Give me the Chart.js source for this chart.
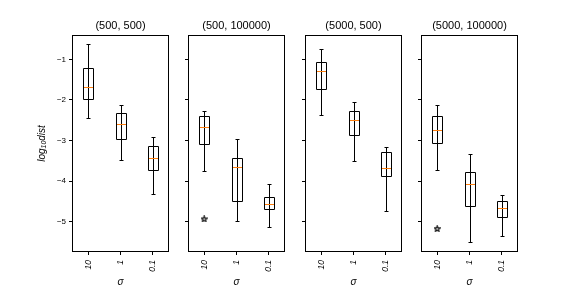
<!DOCTYPE html>
<html>
<head>
<meta charset="utf-8">
<script src="https://cdn.jsdelivr.net/npm/chart.js@4"></script>
<style>
  body { margin: 0; background: #fff; }
  #wrap { position: relative; width: 576px; height: 288px; }
  #wrap canvas { position: absolute; left: 0; top: 0; }
</style>
</head>
<body>
<div id="wrap">
  <canvas id="p0" width="576" height="288"></canvas>
  <canvas id="p1" width="576" height="288"></canvas>
  <canvas id="p2" width="576" height="288"></canvas>
  <canvas id="p3" width="576" height="288"></canvas>
</div>
<script>
// data, one row per panel, one value per sigma
const panelTitles = ["(500, 500)", "(500, 100000)", "(5000, 500)", "(5000, 100000)"];
const sigmaLabels = ["10", "1", "0.1"];
const yTicks = [-5, -4, -3, -2, -1];

const whiskerHigh = [
  [-0.63, -2.13, -2.92],
  [-2.28, -2.97, -4.07],
  [-0.74, -2.06, -3.16],
  [-2.13, -3.33, -4.34],
];
const q3 = [
  [-1.22, -2.31, -3.14],
  [-2.40, -3.43, -4.39],
  [-1.07, -2.28, -3.28],
  [-2.40, -3.78, -4.49],
];
const medians = [
  [-1.69, -2.60, -3.43],
  [-2.67, -3.65, -4.56],
  [-1.29, -2.50, -3.68],
  [-2.74, -4.07, -4.66],
];
const q1 = [
  [-1.98, -2.97, -3.73],
  [-3.09, -4.49, -4.69],
  [-1.74, -2.87, -3.87],
  [-3.06, -4.61, -4.88],
];
const whiskerLow = [
  [-2.45, -3.48, -4.31],
  [-3.75, -4.98, -5.14],
  [-2.38, -3.51, -4.73],
  [-3.73, -5.50, -5.35],
];
const outliers = [
  [null, null, null],
  [-4.93, null, null],
  [null, null, null],
  [-5.17, null, null],
];

const FONT = "'Liberation Sans', Arial, sans-serif";
const panelLeft = [72, 188, 305, 421];
const panelWidth = 97;
const yAxisWidth = 30;

// star marker for fliers
const star = document.createElement("canvas");
star.width = 7; star.height = 7;
(function () {
  const c = star.getContext("2d");
  c.beginPath();
  for (let k = 0; k < 10; k++) {
    const r = k % 2 ? 1.3 : 3.0;
    const a = -Math.PI / 2 + k * Math.PI / 5;
    const px = 3.5 + r * Math.cos(a), py = 3.8 + r * Math.sin(a);
    k ? c.lineTo(px, py) : c.moveTo(px, py);
  }
  c.closePath();
  c.strokeStyle = "#000";
  c.lineWidth = 1.1;
  c.stroke();
})();

const snap = v => Math.round(v) + 0.5;

// box outlines, whiskers, caps, medians and the axes frame
const boxPlugin = {
  id: "boxParts",
  afterDatasetsDraw(chart) {
    const p = chart.options.plugins.boxParts.panel;
    const x = chart.scales.x, y = chart.scales.y;
    const ctx = chart.ctx;
    const bars = chart.getDatasetMeta(0).data;
    ctx.save();
    ctx.lineWidth = 1;
    sigmaLabels.forEach((s, k) => {
      const bar = bars[k];
      const cx = snap(bar.x);
      const half = Math.round(bar.width / 2);
      const capHalf = Math.round(bar.width / 4);
      const yHi = snap(y.getPixelForValue(whiskerHigh[p][k]));
      const yQ3 = snap(bar.y);
      const yQ1 = snap(bar.base);
      const yLo = snap(y.getPixelForValue(whiskerLow[p][k]));
      const yMed = snap(y.getPixelForValue(medians[p][k]));
      ctx.strokeStyle = "#000";
      ctx.beginPath();
      ctx.rect(cx - half, Math.min(yQ3, yQ1), 2 * half, Math.abs(yQ1 - yQ3));
      ctx.moveTo(cx, yQ3); ctx.lineTo(cx, yHi);
      ctx.moveTo(cx, yQ1); ctx.lineTo(cx, yLo);
      ctx.moveTo(cx - capHalf, yHi); ctx.lineTo(cx + capHalf, yHi);
      ctx.moveTo(cx - capHalf, yLo); ctx.lineTo(cx + capHalf, yLo);
      ctx.stroke();
      ctx.strokeStyle = "#ff7f0e";
      ctx.beginPath();
      ctx.moveTo(cx - half + 0.5, yMed); ctx.lineTo(cx + half - 0.5, yMed);
      ctx.stroke();
    });
    const a = chart.chartArea;
    ctx.strokeStyle = "#000";
    ctx.strokeRect(snap(a.left), snap(a.top),
      Math.round(a.right - a.left) - 1, Math.round(a.bottom - a.top) - 1);
    ctx.restore();
  },
  afterDraw(chart) {
    if (chart.options.plugins.boxParts.panel !== 0) return;
    const ctx = chart.ctx;
    const a = chart.chartArea;
    const parts = [
      { t: "log", f: "italic 10px " + FONT, dy: 0 },
      { t: "10", f: "italic 7px " + FONT, dy: 2.5 },
      { t: "dist", f: "italic 10px " + FONT, dy: 0 },
    ];
    ctx.save();
    let total = 0;
    parts.forEach(q => { ctx.font = q.f; q.w = ctx.measureText(q.t).width; total += q.w; });
    ctx.translate(42, (a.top + a.bottom) / 2);
    ctx.rotate(-Math.PI / 2);
    ctx.fillStyle = "#000";
    ctx.textBaseline = "middle";
    let pos = -total / 2;
    parts.forEach(q => { ctx.font = q.f; ctx.fillText(q.t, pos, q.dy); pos += q.w; });
    ctx.restore();
  },
};

panelTitles.forEach((title, i) => {
  new Chart(document.getElementById("p" + i), {
    type: "bar",
    data: {
      labels: sigmaLabels,
      datasets: [
        {
          type: "bar",
          data: q1[i].map((v, k) => [v, q3[i][k]]),
          backgroundColor: "rgba(0,0,0,0)",
          borderWidth: 0,
          categoryPercentage: 1,
          barPercentage: 0.3,
        },
        {
          type: "line",
          data: outliers[i],
          showLine: false,
          pointStyle: star,
          pointRadius: 4,
          borderColor: "#000",
        },
      ],
    },
    options: {
      responsive: false,
      animation: false,
      layout: {
        padding: { left: panelLeft[i] - yAxisWidth, right: 576 - panelLeft[i] - panelWidth, top: 0, bottom: 0 },
      },
      plugins: {
        legend: { display: false },
        tooltip: { enabled: false },
        title: {
          display: true,
          fullSize: false,
          text: title,
          color: "#000",
          font: { family: FONT, size: 11, weight: "normal" },
          padding: { top: 19, bottom: 2.8 },
        },
        boxParts: { panel: i },
      },
      scales: {
        x: {
          offset: true,
          border: { display: false },
          grid: { offset: false, drawOnChartArea: false, drawTicks: true, tickLength: 3, color: "#000" },
          ticks: {
            minRotation: 90, maxRotation: 90, padding: 5, color: "#000",
            font: { family: FONT, size: 8.5, style: "italic" },
          },
          title: {
            display: true, text: "σ", color: "#000", padding: 0,
            font: { family: FONT, size: 10, style: "italic" },
          },
          afterFit(s) { s.height = 36; },
        },
        y: {
          min: -5.745,
          max: -0.4,
          border: { display: false },
          grid: { drawOnChartArea: false, drawTicks: true, tickLength: 3, color: "#000" },
          afterBuildTicks(s) { s.ticks = yTicks.map(v => ({ value: v })); },
          ticks: {
            padding: 3, color: "#000",
            font: { family: FONT, size: 8 },
            callback: v => (i === 0 ? "\u2212" + Math.abs(v) : ""),
          },
          afterFit(s) { s.width = yAxisWidth; },
        },
      },
    },
    plugins: [boxPlugin],
  });
});
</script>
</body>
</html>
